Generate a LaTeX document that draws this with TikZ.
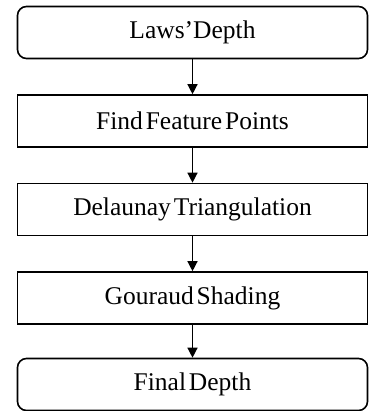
\documentclass[tikz,border=0pt]{standalone}
\usepackage{fontspec}
\setmainfont[WordSpace={0.45}]{Liberation Serif}
\usetikzlibrary{arrows.meta}
\begin{document}
\begin{tikzpicture}[x=1pt,y=-1pt,
  box/.style={draw=black,line width=1.6pt,minimum width=350pt,minimum height=52pt,inner sep=0pt,
    font=\fontsize{25.5}{28}\selectfont,anchor=center,fill=white},
  rbox/.style={box,rounded corners=9pt},
  conn/.style={line width=1.3pt,-{Triangle[width=10pt,length=10pt]}}]
\useasboundingbox (0,0) rectangle (369,411);
\node[rbox] (a) at (192.5,32.5) {Laws'Depth};
\node[box]  (b) at (192.5,121) {Find Feature Points};
\node[box]  (c) at (192.5,209.5) {Delaunay Triangulation};
\node[box]  (d) at (192.5,298) {Gouraud Shading};
\node[rbox] (e) at (192.5,384.5) {Final Depth};
\draw[conn] (a) -- (b);
\draw[conn] (b) -- (c);
\draw[conn] (c) -- (d);
\draw[conn] (d) -- (e);
\end{tikzpicture}
\end{document}
